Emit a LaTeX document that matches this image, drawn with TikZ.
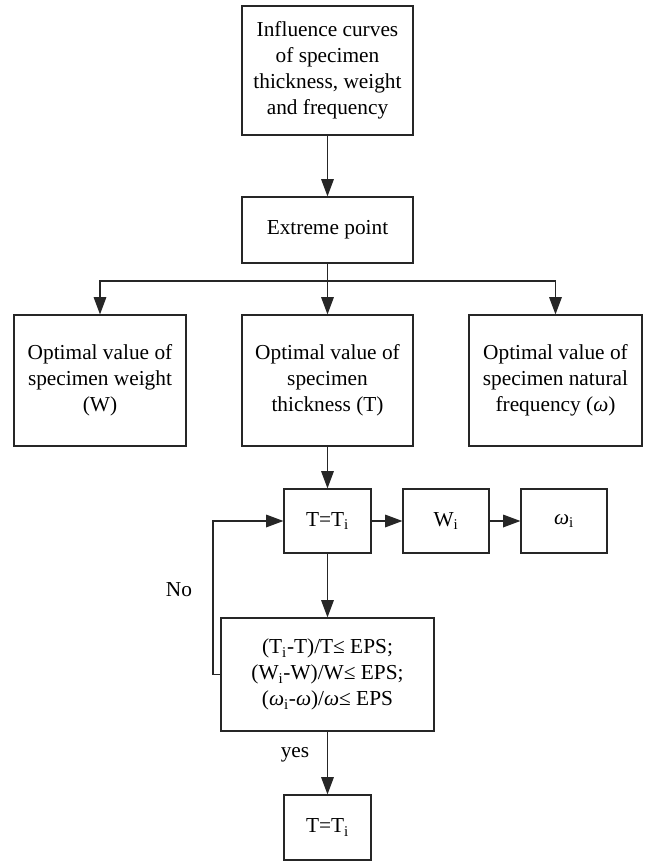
\documentclass[tikz,border=0pt]{standalone}
\usepackage{fontspec}
\setmainfont{Liberation Serif}
\usetikzlibrary{arrows.meta}
\begin{document}
\begin{tikzpicture}[x=0.75pt,y=-0.75pt,
  box/.style={draw=black!85, line width=0.9pt, inner sep=0pt, align=center,
    font=\fontsize{16}{19.5}\selectfont},
  arr/.style={draw=black!85, line width=0.9pt, -{Triangle[length=13pt,width=9.5pt]}},
  ln/.style={draw=black!85, line width=0.9pt},
  lbl/.style={font=\fontsize{16}{19.5}\selectfont}]
\useasboundingbox (0,0) rectangle (645,861);
\node[box, minimum width=128.25pt, minimum height=96.75pt] (top) at (327.5,70.5)
  {Influence curves\\of specimen\\thickness, weight\\and frequency};
\node[box, minimum width=128.25pt, minimum height=49.5pt] (ext) at (327.5,230) {Extreme point};
\node[box, minimum width=129pt, minimum height=98.25pt] (lft) at (100,380.5)
  {Optimal value of\\specimen weight\\(W)};
\node[box, minimum width=128.25pt, minimum height=98.25pt] (mid) at (327.5,380.5)
  {Optimal value of\\specimen\\thickness (T)};
\node[box, minimum width=129.75pt, minimum height=98.25pt] (rgt) at (555.5,380.5)
  {Optimal value of\\specimen natural\\frequency (\textit{ω})};
\node[box, minimum width=65.25pt, minimum height=48pt] (ti) at (327.5,521) {T=T\textsubscript{i}};
\node[box, minimum width=64.5pt, minimum height=48pt] (wi) at (446,521) {W\textsubscript{i}};
\node[box, minimum width=64.5pt, minimum height=48pt] (oi) at (564,521) {\textit{ω}\textsubscript{i}};
\node[box, minimum width=159.75pt, minimum height=84.75pt] (eps) at (327.5,674.5)
  {(T\textsubscript{i}-T)/T≤ EPS;\\(W\textsubscript{i}-W)/W≤ EPS;\\(\textit{ω}\textsubscript{i}-\textit{ω})/\textit{ω}≤ EPS};
\node[box, minimum width=65.25pt, minimum height=48.75pt] (fin) at (327.5,827.5) {T=T\textsubscript{i}};
\node[lbl] (no) at (179,590) {No};
\node[lbl] (yes) at (295,755) {yes};
\coordinate (br) at (327.5,281);
\coordinate (fb) at (213,674.5);
\draw[arr] (top) -- (ext);
\draw[ln] (ext.south) -- (br);
\draw[arr] (br) -- (mid.north);
\draw[arr] (br) -| (lft.north);
\draw[arr] (br) -| (rgt.north);
\draw[arr] (mid.south) -- (ti.north);
\draw[arr] (ti) -- (wi);
\draw[arr] (wi) -- (oi);
\draw[arr] (ti.south) -- (eps.north);
\draw[arr] (eps.west) -- (fb) |- (ti.west);
\draw[arr] (eps.south) -- (fin.north);
\end{tikzpicture}
\end{document}
